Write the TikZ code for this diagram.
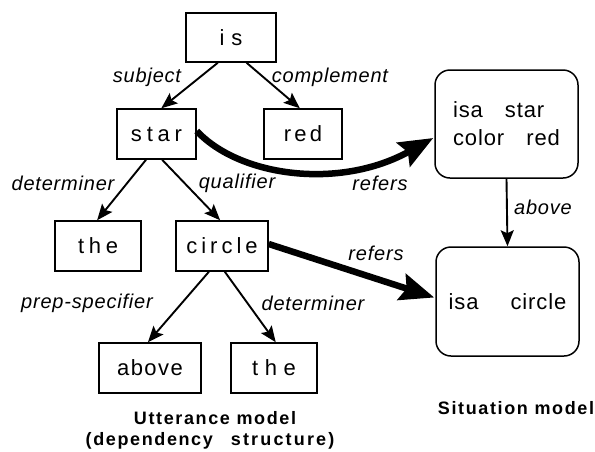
\documentclass[tikz,border=0pt]{standalone}
\usepackage{fontspec}
\setmainfont{Liberation Sans}
\newfontfamily\labfnt[LetterSpace=4]{Liberation Sans}
\newfontfamily\capfnt[LetterSpace=9]{Liberation Sans}
\newfontfamily\capwide[LetterSpace=12]{Liberation Sans}
\newfontfamily\boxfnt{Liberation Sans}
\newfontfamily\sitfnt[LetterSpace=4]{Liberation Sans}
\usetikzlibrary{arrows.meta,calc}
\begin{document}
\begin{tikzpicture}[x=1pt,y=-1pt,
  wbox/.style={draw, line width=1.5pt, minimum height=50pt, inner sep=0pt,
    font=\boxfnt\fontsize{22}{24}\selectfont},
  sbox/.style={draw, line width=1.5pt, rounded corners=15pt, inner sep=0pt,
    minimum width=143pt, align=left, font=\sitfnt\fontsize{22}{28}\selectfont},
  lab/.style={inner sep=0pt, font=\labfnt\itshape\fontsize{20}{22}\selectfont},
  captxt/.style={inner sep=0pt, font=\capfnt\bfseries\fontsize{18}{20}\selectfont},
  conn/.style={line width=1.9pt, -{Stealth[length=16pt,width=13pt,inset=3pt]}},
  refl/.style={line width=6.5pt, -{Stealth[length=34pt,width=27pt,inset=5pt]}}
]
\useasboundingbox (0,0) rectangle (595,451);
% utterance tree
\node[wbox, minimum width=90pt, minimum height=49pt] (is) at (231,37.5) {i\kern7pt s};
\node[wbox, minimum width=79pt] (star) at (156.5,134) {s\kern4.8pt t\kern4.8pt a\kern4.8pt r};
\node[wbox, minimum width=78pt] (red) at (303,134) {r\kern3.2pt e\kern3.2pt d};
\node[wbox, minimum width=86pt] (the1) at (98,246) {t\kern4.7pt h\kern4.7pt e};
\node[wbox, minimum width=92pt] (circle) at (222,246) {c\kern4pt i\kern4pt r\kern4pt c\kern4pt l\kern4pt e};
\node[wbox, minimum width=102pt] (above) at (150,368) {a\kern1.5pt b\kern1.5pt o\kern1.5pt v\kern1.5pt e};
\node[wbox, minimum width=86pt] (the2) at (274,368) {t\kern6.5pt h\kern6.5pt e};
% situation model
\node[sbox, minimum height=108pt] (sit1) at (506.5,124) {isa\hspace{22pt}star\\color\hspace{22pt}red};
\node[sbox, minimum height=109pt] (sit2) at (507.5,301.5) {isa\hspace{32pt}circle};
% tree connectors
\draw[conn] ($(is.south west)!0.356!(is.south east)$) -- ($(star.north west)!0.56!(star.north east)$);
\draw[conn] ($(is.south west)!0.67!(is.south east)$) -- ($(red.north west)!0.46!(red.north east)$);
\draw[conn] ($(star.south west)!0.37!(star.south east)$) -- ($(the1.north west)!0.49!(the1.north east)$);
\draw[conn] ($(star.south west)!0.57!(star.south east)$) -- ($(circle.north west)!0.48!(circle.north east)$);
\draw[conn] ($(circle.south west)!0.36!(circle.south east)$) -- ($(above.north west)!0.48!(above.north east)$);
\draw[conn] ($(circle.south west)!0.53!(circle.south east)$) -- ($(the2.north west)!0.52!(the2.north east)$);
\draw[conn] (sit1.south) -- (sit2.north);
% refers arrows
\draw[refl] ($(star.east)+(0,-3)$) .. controls (240,177) and (340,190) .. ($(sit1.west)+(-1,14)$);
\draw[refl] ($(circle.east)+(0,-2)$) -- ($(sit2.west)+(-1,-4)$);
% labels
\node[lab] (l1) at (147,77) {subject};
\node[lab] (l2) at (330,77) {complement};
\node[lab] (l3) at (63,183) {determiner};
\node[lab] (l4) at (237,183) {qualifier};
\node[lab] (l5) at (380,183) {refers};
\node[lab] (l6) at (376,253) {refers};
\node[lab] (l7) at (87,303) {prep-specifier};
\node[lab] (l8) at (313,303) {determiner};
\node[lab] (l9) at (543,207) {above};
\node[captxt] (c1) at (215,418) {Utterance model};
\node[captxt] (c2) at (210,441) {(dependency\hspace{18pt}{\capwide structure)}};
\node[captxt] (c3) at (516,408) {Situation model};
\end{tikzpicture}
\end{document}
